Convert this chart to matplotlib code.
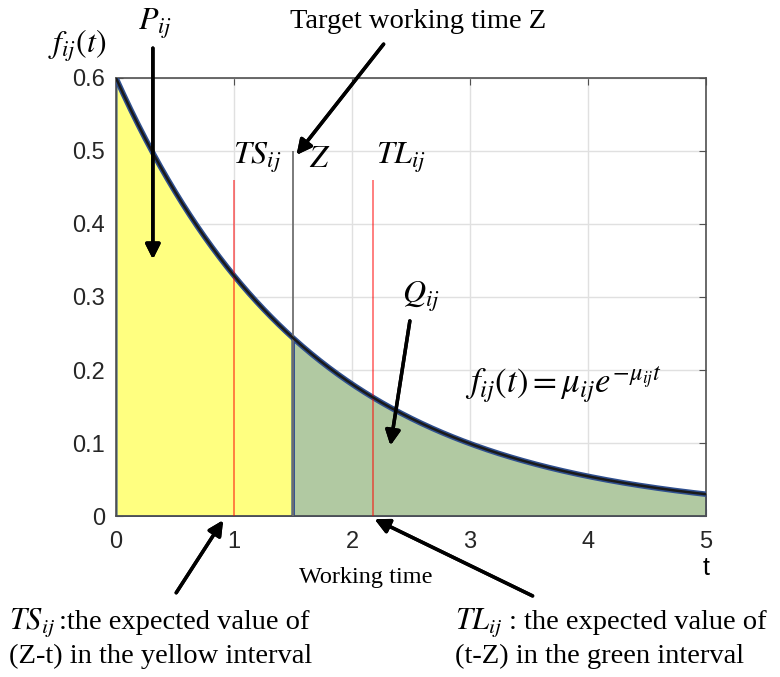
import numpy as np
import matplotlib.pyplot as plt

plt.rcParams['mathtext.fontset'] = 'stix'

# model parameters for the exponential density
mu = 0.6
t_max = 5.0
z_target = 1.5
ts_value = 1.0
tl_value = 2.18
ts_line_top = 0.46
tl_line_top = 0.46
z_line_top = 0.5

xticks = [0, 1, 2, 3, 4, 5]
yticks = [0, 0.1, 0.2, 0.3, 0.4, 0.5, 0.6]
ytick_labels = ['0', '0.1', '0.2', '0.3', '0.4', '0.5', '0.6']

t = np.linspace(0, t_max, 400)
f = mu * np.exp(-mu * t)

fig = plt.figure(figsize=(7.8, 6.77), dpi=100)
ax = fig.add_axes([0.1487, 0.2378, 0.7563, 0.647])

left = t <= z_target
right = t >= z_target
ax.fill_between(t[left], 0, f[left], color='#ffff80', edgecolor='#2f4f8f', lw=1.5, zorder=2)
ax.fill_between(t[right], 0, f[right], color='#b1c9a2', edgecolor='#2f4f8f', lw=1.5, zorder=2)
ax.plot(t, f, color='#2f4f8f', lw=4, zorder=3)
ax.plot(t, f, color='#1a1a1a', lw=1.8, zorder=4)

ax.vlines(ts_value, 0, ts_line_top, color='red', alpha=0.5, lw=1.4, zorder=3)
ax.vlines(tl_value, 0, tl_line_top, color='red', alpha=0.5, lw=1.4, zorder=3)
ax.vlines(z_target, 0, z_line_top, color='#707070', lw=1.3, zorder=3)

ax.set_xlim(0, t_max)
ax.set_ylim(0, 0.6)
ax.set_xticks(xticks)
ax.set_yticks(yticks)
ax.set_yticklabels(ytick_labels)
ax.grid(True, color='#e0e0e0', lw=1)
ax.set_axisbelow(True)
ax.tick_params(direction='in', top=True, right=True, length=5, color='#505050',
               labelsize=17)
ax.tick_params(axis='x', pad=11)
ax.tick_params(axis='y', pad=8)
for lab in ax.get_xticklabels() + ax.get_yticklabels():
    lab.set_family('Liberation Sans')
    lab.set_color('#262626')
for s in ax.spines.values():
    s.set_color('#505050')
    s.set_linewidth(1.2)

serif = 'Liberation Serif'
fig.text(0.536, 0.968, 'Target working time Z', family=serif, fontsize=20.5, ha='center', va='center')
fig.text(0.062, 0.933, r'$f_{ij}(t)$', fontsize=23, ha='left', va='center')
fig.text(0.199, 0.965, r'$P_{ij}$', fontsize=23, ha='center', va='center')
ax.text(1.20, 0.49, r'$TS_{ij}$', fontsize=23, ha='center', va='center', zorder=5)
ax.text(1.73, 0.49, r'$Z$', fontsize=23, ha='center', va='center', zorder=5)
ax.text(2.42, 0.49, r'$TL_{ij}$', fontsize=23, ha='center', va='center', zorder=5)
ax.text(2.58, 0.30, r'$Q_{ij}$', fontsize=23, ha='center', va='center', zorder=5)
ax.text(2.96, 0.18, r'$f_{ij}(t) = \mu_{ij}e^{-\mu_{ij}t}$', fontsize=25, ha='left', va='center', zorder=5)
fig.text(0.905, 0.161, 't', family='Liberation Sans', fontsize=18, ha='center', va='center')
fig.text(0.469, 0.147, 'Working time', family=serif, fontsize=17.5, ha='center', va='center')

fig.text(0.012, 0.081, r'$TS_{ij}$', fontsize=22, ha='left', va='center')
fig.text(0.076, 0.081, ':the expected value of', family=serif, fontsize=20.5, ha='left', va='center')
fig.text(0.012, 0.030, '(Z-t) in the yellow interval', family=serif, fontsize=20.5, ha='left', va='center')
fig.text(0.583, 0.081, r'$TL_{ij}$', fontsize=22, ha='left', va='center')
fig.text(0.652, 0.081, ': the expected value of', family=serif, fontsize=20.5, ha='left', va='center')
fig.text(0.583, 0.030, '(t-Z) in the green interval', family=serif, fontsize=20.5, ha='left', va='center')

# annotation arrows (figure fraction coordinates)
arrow = dict(arrowstyle='-|>', color='black', lw=2.5, mutation_scale=22)
arrows = [
    ((0.196, 0.933), (0.196, 0.613)),
    ((0.494, 0.938), (0.378, 0.768)),
    ((0.526, 0.530), (0.50, 0.338)),
    ((0.224, 0.121), (0.288, 0.235)),
    ((0.686, 0.118), (0.477, 0.235)),
]
for start, end in arrows:
    fig.add_artist(plt.annotate('', xy=end, xycoords='figure fraction',
                                xytext=start, textcoords='figure fraction',
                                arrowprops=arrow))

fig.savefig('out.png', dpi=100)
